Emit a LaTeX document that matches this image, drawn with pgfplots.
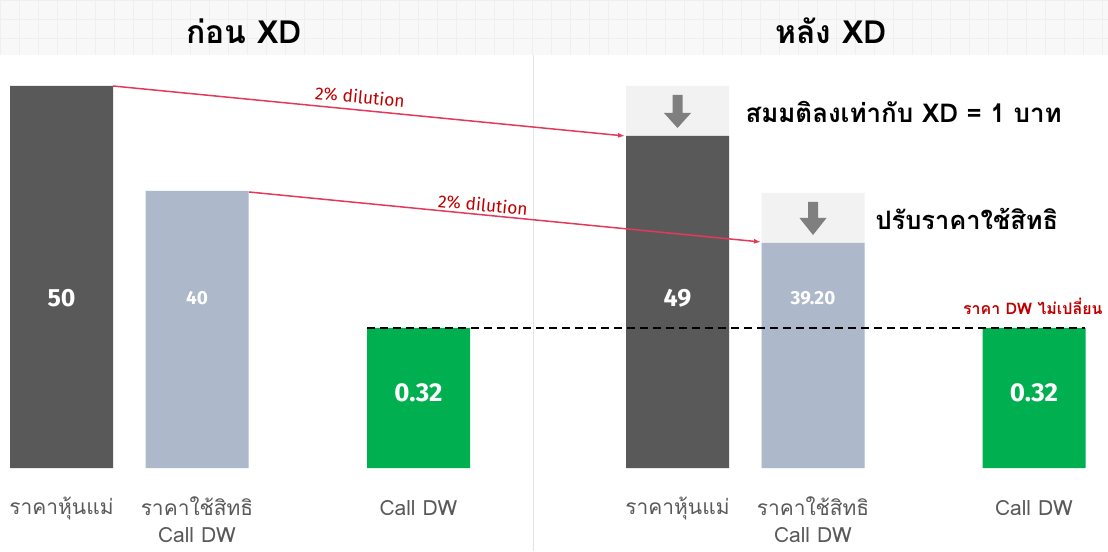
\documentclass[border=0pt]{standalone}
\usepackage{fontspec}
\usepackage{pgfplots}
\pgfplotsset{compat=1.18}
\usetikzlibrary{arrows.meta}
\setmainfont{Fira Sans}
\newfontfamily\thai[Script=Thai]{Loma}
\newfontfamily\lat{Fira Sans}
\definecolor{darkbar}{HTML}{595959}
\definecolor{bluebar}{HTML}{ADB9CA}
\definecolor{greenbar}{HTML}{00B050}
\definecolor{boxgray}{HTML}{F2F2F2}
\definecolor{arrgray}{HTML}{7F7F7F}
\definecolor{redline}{HTML}{E23A5C}
\definecolor{redtext}{HTML}{C00000}
\definecolor{labgray}{HTML}{595959}
\definecolor{bandgray}{HTML}{F8F8F8}
\definecolor{gridgray}{HTML}{EFEFEF}
\definecolor{sepgray}{HTML}{E4E4E4}

% visual bar heights (px above the common base line)
\pgfplotstableread{
x      h
61.5   382
677.5  332
}\stocktab
\pgfplotstableread{
x      h
197    277
813    225
}\striketab
\pgfplotstableread{
x      h
418.5  140
1034   140
}\dwtab
\pgfplotstableread{
x      h
677.5  382
813    275
}\boxtab

\begin{document}
\begin{tikzpicture}
\begin{axis}[
  scale only axis, width=1108bp, height=551bp,
  xmin=0, xmax=1108, ymin=-83, ymax=468,
  axis lines=none, clip=false,
]
% background
\fill[white] (axis cs:0,-83) rectangle (axis cs:1108,468);
\fill[bandgray] (axis cs:0,413) rectangle (axis cs:1108,468);
\begin{scope}
\clip (axis cs:0,413) rectangle (axis cs:1108,468);
\draw[gridgray, line width=0.6bp, step=19bp] (axis cs:0,413) grid (axis cs:1108,468);
\end{scope}
\draw[sepgray, line width=1bp] (axis cs:533,413) -- (axis cs:533,-83);

% bars
\addplot[ybar, bar width=103, bar shift=0pt, fill=boxgray, draw=none] table[x=x,y=h] {\boxtab};
\addplot[ybar, bar width=103, bar shift=0pt, fill=darkbar, draw=none] table[x=x,y=h] {\stocktab};
\addplot[ybar, bar width=103, bar shift=0pt, fill=bluebar, draw=none] table[x=x,y=h] {\striketab};
\addplot[ybar, bar width=103, bar shift=0pt, fill=greenbar, draw=none] table[x=x,y=h] {\dwtab};

% dashed reference line
\addplot[black, line width=1.6bp, dash pattern=on 8bp off 5bp] coordinates {(367,140) (1085,140)};

% gray down arrows
\fill[arrgray] (axis cs:672.5,373) -- (axis cs:682.5,373) -- (axis cs:682.5,355) -- (axis cs:691,355) -- (axis cs:677.5,340) -- (axis cs:664,355) -- (axis cs:672.5,355) -- cycle;
\fill[arrgray] (axis cs:808,266) -- (axis cs:818,266) -- (axis cs:818,250) -- (axis cs:826.5,250) -- (axis cs:813,233) -- (axis cs:799.5,250) -- (axis cs:808,250) -- cycle;

% red dilution arrows
\addplot[redline, line width=1.5bp, -{Latex[length=7bp,width=5bp]}] coordinates {(113,382) (625,332)};
\addplot[redline, line width=1.5bp, -{Latex[length=7bp,width=5bp]}] coordinates {(249,276) (761,226)};
\node[text=redtext, rotate=-5.6, font=\lat\fontsize{17.5}{19}\selectfont] at (axis cs:360,371) {2\% dilution};
\node[text=redtext, rotate=-5.6, font=\lat\fontsize{17.5}{19}\selectfont] at (axis cs:483,263) {2\% dilution};

% titles
\node[font=\thai\bfseries\fontsize{32}{36}\selectfont] at (axis cs:244,437) {ก่อน XD};
\node[font=\thai\bfseries\fontsize{32}{36}\selectfont] at (axis cs:831,437) {หลัง XD};

% annotations
\node[anchor=west, font=\thai\bfseries\fontsize{26}{28}\selectfont] at (axis cs:742,356) {สมมติลงเท่ากับ XD = 1 บาท};
\node[anchor=west, font=\thai\bfseries\fontsize{25.5}{28}\selectfont] at (axis cs:872,249) {ปรับราคาใช้สิทธิ};
\node[anchor=east, text=redtext, font=\thai\bfseries\fontsize{16}{20}\selectfont] at (axis cs:1106,162) {ราคา DW ไม่เปลี่ยน};

% value labels
\node[text=white, font=\lat\bfseries\fontsize{25}{28}\selectfont] at (axis cs:61.5,170) {50};
\node[text=white, font=\lat\bfseries\fontsize{19}{22}\selectfont] at (axis cs:197,170) {40};
\node[text=white, font=\lat\bfseries\fontsize{26}{28}\selectfont] at (axis cs:418.5,75) {0.32};
\node[text=white, font=\lat\bfseries\fontsize{25}{28}\selectfont] at (axis cs:677.5,170) {49};
\node[text=white, font=\lat\bfseries\fontsize{19}{22}\selectfont] at (axis cs:813,170) {39.20};
\node[text=white, font=\lat\bfseries\fontsize{26}{28}\selectfont] at (axis cs:1034,75) {0.32};

% category labels
\node[text=labgray, font=\thai\fontsize{21}{27}\selectfont] at (axis cs:61.5,-40) {ราคาหุ้นแม่};
\node[text=labgray, font=\thai\fontsize{21}{27}\selectfont] at (axis cs:677.5,-40) {ราคาหุ้นแม่};
\node[text=labgray, align=center, font=\thai\fontsize{21}{27}\selectfont, anchor=north, inner sep=1bp] at (axis cs:197,-28) {ราคาใช้สิทธิ\\Call DW};
\node[text=labgray, align=center, font=\thai\fontsize{21}{27}\selectfont, anchor=north, inner sep=1bp] at (axis cs:813,-28) {ราคาใช้สิทธิ\\Call DW};
\node[text=labgray, font=\thai\fontsize{21}{27}\selectfont] at (axis cs:418.5,-40) {Call DW};
\node[text=labgray, font=\thai\fontsize{21}{27}\selectfont] at (axis cs:1034,-40) {Call DW};
\end{axis}
\end{tikzpicture}
\end{document}
